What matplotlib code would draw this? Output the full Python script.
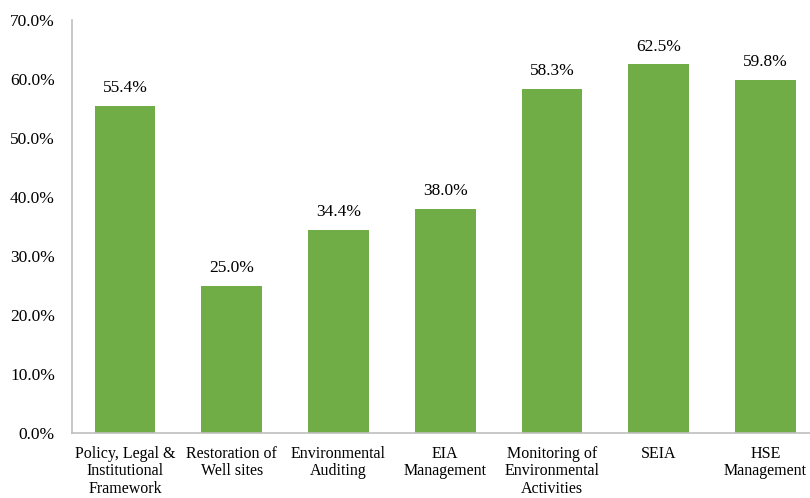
import matplotlib
matplotlib.use("Agg")
import matplotlib.pyplot as plt

categories = ["Policy, Legal &\nInstitutional\nFramework", "Restoration of\nWell sites",
              "Environmental\nAuditing", "EIA\nManagement",
              "Monitoring of\nEnvironmental\nActivities", "SEIA", "HSE\nManagement"]
values = [55.4, 25.0, 34.4, 38.0, 58.3, 62.5, 59.8]
yticks = [0, 10, 20, 30, 40, 50, 60, 70]

plt.rcParams['font.family'] = ['Liberation Serif', 'DejaVu Serif']
fig = plt.figure(figsize=(8.1, 4.98), dpi=100)
W, H = 810, 498
left, right, top, bottom = 71.6, 810, 20, 433
ax = fig.add_axes([left / W, (H - bottom) / H, (right - left) / W, (bottom - top) / H])

x = list(range(len(values)))
ax.bar(x, values, width=0.57, color="#70AD47")
ax.set_xlim(-0.5, -0.5 + (right - left) / 106.75)
ax.set_ylim(0, 70)
ax.set_yticks(yticks)
ax.set_yticklabels([f"{v:.1f}%" for v in yticks], fontsize=12.5)
ax.set_xticks(x)
ax.set_xticklabels(categories, fontsize=11.5, linespacing=1.13)
ax.tick_params(axis='y', length=0, pad=12)
ax.tick_params(axis='x', length=0, pad=9)
for s in ['top', 'right']:
    ax.spines[s].set_visible(False)
for s in ['left', 'bottom']:
    ax.spines[s].set_color("#BFBFBF")
    ax.spines[s].set_linewidth(1.2)
for xi, v in zip(x, values):
    ax.annotate(f"{v:.1f}%", (xi, v), xytext=(0, 7), textcoords="offset points",
                ha="center", va="bottom", fontsize=12.5)

fig.savefig("out.png", dpi=100)
